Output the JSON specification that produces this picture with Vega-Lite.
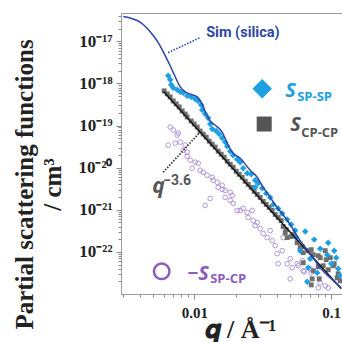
{
  "$schema": "https://vega.github.io/schema/vega-lite/v6.json",
  "width": 221,
  "height": 281,
  "autosize": "none",
  "padding": {"left": 121, "top": 13, "right": 0, "bottom": 48},
  "background": "white",
  "config": {
    "view": {"stroke": "#9a9a9a", "strokeWidth": 1},
    "axis": {
      "grid": false,
      "domainColor": "#9a9a9a",
      "tickColor": "#888888",
      "labelFont": "Liberation Serif",
      "labelFontWeight": "bold",
      "labelFontSize": 15,
      "labelColor": "#222222",
      "labelFlush": false,
      "labelOverlap": false,
      "titleFont": "Liberation Serif",
      "titleFontWeight": "bold",
      "titleColor": "#222222"
    }
  },
  "datasets": {
    "sim": [
      {"q": 0.003009, "S": 3.886e-17}, {"q": 0.003385, "S": 3.578e-17}, {"q": 0.003809, "S": 3.119e-17},
      {"q": 0.004214, "S": 2.504e-17}, {"q": 0.004585, "S": 1.902e-17}, {"q": 0.004988, "S": 1.368e-17},
      {"q": 0.005427, "S": 9.311e-18}, {"q": 0.005804, "S": 6.337e-18}, {"q": 0.006105, "S": 4.557e-18},
      {"q": 0.00664, "S": 2.63e-18}, {"q": 0.007224, "S": 1.437e-18}, {"q": 0.007859, "S": 8.298e-19},
      {"q": 0.008551, "S": 6.302e-19}, {"q": 0.009461, "S": 5.495e-19}, {"q": 0.01047, "S": 4.788e-19},
      {"q": 0.01138, "S": 3.26e-19}, {"q": 0.01218, "S": 1.881e-19}, {"q": 0.01303, "S": 1.28e-19},
      {"q": 0.01441, "S": 9.73e-20}, {"q": 0.01594, "S": 6.997e-20}, {"q": 0.01735, "S": 3.822e-20},
      {"q": 0.01887, "S": 2.331e-20}, {"q": 0.02159, "S": 1.676e-20}, {"q": 0.02556, "S": 8.667e-21},
      {"q": 0.02876, "S": 5.901e-21}, {"q": 0.03182, "S": 3.405e-21}, {"q": 0.03579, "S": 1.966e-21},
      {"q": 0.04027, "S": 1.135e-21}, {"q": 0.04608, "S": 6.551e-22}, {"q": 0.05185, "S": 3.78e-22},
      {"q": 0.05932, "S": 1.85e-22}, {"q": 0.0702, "S": 9.057e-23}, {"q": 0.08311, "S": 4.197e-23},
      {"q": 0.09833, "S": 2.422e-23}, {"q": 0.1184, "S": 1.398e-23}
    ],
    "fit": [
      {"q": 0.005932, "S": 6.408e-19}, {"q": 0.1184, "S": 1.339e-23}
    ],
    "sp_sp": [
      {"q": 0.00642, "S": 1.518e-18}, {"q": 0.00664, "S": 1.219e-18}, {"q": 0.006753, "S": 9.26e-19},
      {"q": 0.006985, "S": 7.853e-19}, {"q": 0.007472, "S": 7.036e-19}, {"q": 0.007861, "S": 6.304e-19},
      {"q": 0.008267, "S": 5.967e-19}, {"q": 0.008844, "S": 5.06e-19}, {"q": 0.00946, "S": 4.789e-19},
      {"q": 0.01012, "S": 4.29e-19}, {"q": 0.010645, "S": 3.844e-19}, {"q": 0.0112, "S": 3.085e-19},
      {"q": 0.01139, "S": 2.344e-19}, {"q": 0.01198, "S": 1.881e-19}, {"q": 0.0126, "S": 1.51e-19},
      {"q": 0.01303, "S": 1.086e-19}, {"q": 0.01347, "S": 8.25e-20}, {"q": 0.01441, "S": 7.392e-20},
      {"q": 0.01516, "S": 6.268e-20}, {"q": 0.01595, "S": 5.031e-20}, {"q": 0.01677, "S": 4.039e-20},
      {"q": 0.01735, "S": 3.242e-20}, {"q": 0.01825, "S": 2.463e-20}, {"q": 0.0192, "S": 1.977e-20},
      {"q": 0.02053, "S": 1.587e-20}, {"q": 0.0216, "S": 1.346e-20}, {"q": 0.02271, "S": 9.676e-21},
      {"q": 0.0243, "S": 7.353e-21}, {"q": 0.02599, "S": 6.959e-21}, {"q": 0.0278, "S": 5.005e-21},
      {"q": 0.02925, "S": 4.243e-21}, {"q": 0.0278, "S": 3.407e-21}, {"q": 0.03129, "S": 3.224e-21},
      {"q": 0.03347, "S": 2.45e-21}, {"q": 0.0358, "S": 1.966e-21}, {"q": 0.03766, "S": 1.338e-21},
      {"q": 0.04096, "S": 1.074e-21}, {"q": 0.04382, "S": 8.16e-22}, {"q": 0.04767, "S": 5.868e-22},
      {"q": 0.05099, "S": 4.458e-22}, {"q": 0.05455, "S": 3.206e-22}, {"q": 0.06456, "S": 3.035e-22},
      {"q": 0.05548, "S": 2.183e-22}, {"q": 0.07513, "S": 1.955e-22}, {"q": 0.05934, "S": 1.068e-22},
      {"q": 0.08313, "S": 1.192e-22}, {"q": 0.09512, "S": 1.658e-22}, {"q": 0.1052, "S": 1.068e-22},
      {"q": 0.09353, "S": 8.575e-23}, {"q": 0.1088, "S": 7.27e-23}, {"q": 0.07024, "S": 6.882e-23},
      {"q": 0.06791, "S": 4.198e-23}, {"q": 0.07903, "S": 3.189e-23}, {"q": 0.06678, "S": 1.944e-23},
      {"q": 0.1125, "S": 3.972e-23}, {"q": 0.1164, "S": 2.704e-23}, {"q": 0.1001, "S": 5.229e-23}
    ],
    "cp_cp": [
      {"q": 0.006004, "S": 6.66e-19}, {"q": 0.006315, "S": 5.647e-19}, {"q": 0.00664, "S": 4.789e-19},
      {"q": 0.006985, "S": 3.844e-19}, {"q": 0.007347, "S": 3.259e-19}, {"q": 0.00773, "S": 2.764e-19},
      {"q": 0.008129, "S": 2.219e-19}, {"q": 0.008551, "S": 1.881e-19}, {"q": 0.008843, "S": 1.596e-19},
      {"q": 0.00946, "S": 1.281e-19}, {"q": 0.009951, "S": 1.086e-19}, {"q": 0.01047, "S": 9.211e-20},
      {"q": 0.01101, "S": 7.392e-20}, {"q": 0.01158, "S": 6.268e-20}, {"q": 0.01218, "S": 5.316e-20},
      {"q": 0.01281, "S": 4.267e-20}, {"q": 0.01347, "S": 3.618e-20}, {"q": 0.01417, "S": 3.069e-20},
      {"q": 0.01491, "S": 2.463e-20}, {"q": 0.01568, "S": 2.089e-20}, {"q": 0.01649, "S": 1.771e-20},
      {"q": 0.01735, "S": 1.422e-20}, {"q": 0.01825, "S": 1.205e-20}, {"q": 0.0192, "S": 1.022e-20},
      {"q": 0.02019, "S": 8.207e-21}, {"q": 0.02124, "S": 6.959e-21}, {"q": 0.02234, "S": 5.902e-21},
      {"q": 0.02349, "S": 4.738e-21}, {"q": 0.02471, "S": 4.017e-21}, {"q": 0.02599, "S": 3.407e-21},
      {"q": 0.02734, "S": 2.735e-21}, {"q": 0.02875, "S": 2.319e-21}, {"q": 0.03025, "S": 1.967e-21},
      {"q": 0.03182, "S": 1.578e-21}, {"q": 0.03347, "S": 1.338e-21}, {"q": 0.0352, "S": 1.135e-21},
      {"q": 0.03703, "S": 9.623e-22}, {"q": 0.03895, "S": 7.724e-22}, {"q": 0.04096, "S": 6.551e-22},
      {"q": 0.04309, "S": 5.555e-22}, {"q": 0.04457, "S": 3.995e-22}, {"q": 0.04687, "S": 3.387e-22},
      {"q": 0.04609, "S": 2.873e-22}, {"q": 0.04767, "S": 2.183e-22}, {"q": 0.05099, "S": 2.306e-22},
      {"q": 0.05274, "S": 2.574e-22}, {"q": 0.05642, "S": 1.658e-22}, {"q": 0.05934, "S": 1.26e-22},
      {"q": 0.06138, "S": 1.331e-22}, {"q": 0.06242, "S": 9.569e-23}, {"q": 0.06791, "S": 1.068e-22},
      {"q": 0.07143, "S": 1.128e-22}, {"q": 0.07388, "S": 8.575e-23}, {"q": 0.08037, "S": 8.117e-23},
      {"q": 0.08313, "S": 7.273e-23}, {"q": 0.09043, "S": 1.068e-22}, {"q": 0.09197, "S": 6.514e-23},
      {"q": 0.09838, "S": 7.273e-23}, {"q": 0.1035, "S": 4.685e-23}, {"q": 0.1052, "S": 5.229e-23},
      {"q": 0.08743, "S": 4.685e-23}, {"q": 0.08037, "S": 4.435e-23}, {"q": 0.07388, "S": 3.559e-23},
      {"q": 0.09512, "S": 3.76e-23}, {"q": 0.08174, "S": 2.292e-23}, {"q": 0.07143, "S": 1.649e-23},
      {"q": 0.07265, "S": 2.292e-23}, {"q": 0.1125, "S": 3.018e-23}, {"q": 0.1164, "S": 2.054e-23},
      {"q": 0.1107, "S": 2.423e-23}, {"q": 0.06242, "S": 5.525e-23}
    ],
    "sp_cp": [
      {"q": 0.00664, "S": 9.211e-20}, {"q": 0.006985, "S": 7.809e-20}, {"q": 0.0076, "S": 6.622e-20},
      {"q": 0.007472, "S": 5.933e-20}, {"q": 0.00642, "S": 3.425e-20}, {"q": 0.007224, "S": 3.823e-20},
      {"q": 0.007861, "S": 4.039e-20}, {"q": 0.008551, "S": 3.425e-20}, {"q": 0.008267, "S": 2.602e-20},
      {"q": 0.008843, "S": 2.331e-20}, {"q": 0.008844, "S": 1.871e-20}, {"q": 0.009302, "S": 1.502e-20},
      {"q": 0.01012, "S": 1.346e-20}, {"q": 0.009621, "S": 9.676e-21}, {"q": 0.010645, "S": 1.274e-20},
      {"q": 0.01101, "S": 8.67e-21}, {"q": 0.01158, "S": 7.768e-21}, {"q": 0.01239, "S": 6.587e-21},
      {"q": 0.01347, "S": 5.902e-21}, {"q": 0.0137, "S": 5.005e-21}, {"q": 0.01466, "S": 4.485e-21},
      {"q": 0.01491, "S": 3.407e-21}, {"q": 0.01595, "S": 3.802e-21}, {"q": 0.01595, "S": 3.052e-21},
      {"q": 0.01677, "S": 2.889e-21}, {"q": 0.01825, "S": 2.589e-21}, {"q": 0.01888, "S": 2.195e-21},
      {"q": 0.01303, "S": 1.86e-21}, {"q": 0.01198, "S": 1.267e-21}, {"q": 0.01677, "S": 1.966e-21},
      {"q": 0.01825, "S": 1.667e-21}, {"q": 0.0192, "S": 1.414e-21}, {"q": 0.02053, "S": 9.623e-22},
      {"q": 0.0216, "S": 9.623e-22}, {"q": 0.02271, "S": 1.074e-21}, {"q": 0.0243, "S": 8.62e-22},
      {"q": 0.02644, "S": 9.623e-22}, {"q": 0.02471, "S": 6.551e-22}, {"q": 0.02688, "S": 5.555e-22},
      {"q": 0.0278, "S": 4.22e-22}, {"q": 0.02875, "S": 4.977e-22}, {"q": 0.03025, "S": 3.579e-22},
      {"q": 0.03182, "S": 2.719e-22}, {"q": 0.0358, "S": 3.206e-22}, {"q": 0.03404, "S": 2.183e-22},
      {"q": 0.03703, "S": 1.851e-22}, {"q": 0.03895, "S": 1.406e-22}, {"q": 0.04457, "S": 2.183e-22},
      {"q": 0.04382, "S": 1.068e-22}, {"q": 0.04028, "S": 9.058e-23}, {"q": 0.04096, "S": 5.229e-23},
      {"q": 0.04767, "S": 5.229e-23}, {"q": 0.05014, "S": 6.882e-23}, {"q": 0.05186, "S": 4.198e-23},
      {"q": 0.05738, "S": 4.685e-23}, {"q": 0.06138, "S": 6.166e-23}, {"q": 0.07024, "S": 3.972e-23},
      {"q": 0.06242, "S": 3.559e-23}, {"q": 0.05642, "S": 5.229e-23}, {"q": 0.06348, "S": 3.369e-23},
      {"q": 0.07143, "S": 3.189e-23}, {"q": 0.08313, "S": 1.84e-23}, {"q": 0.09043, "S": 1.561e-23},
      {"q": 0.09512, "S": 1.399e-23}, {"q": 0.08037, "S": 1.399e-23}, {"q": 0.05014, "S": 2.292e-23}
    ],
    "ptr_sim": [{"q": 0.00642, "S": 5.375e-18}, {"q": 0.01101, "S": 1.225e-17}],
    "ptr_fit": [{"q": 0.005902, "S": 7.767e-21}, {"q": 0.01082, "S": 6.622e-20}],
    "sim_note": [{"label": "Sim (silica)", "q": 0.01218, "S": 1.613e-17}],
    "fit_q": [{"label": "q", "q": 0.004905, "S": 2.449e-21}],
    "fit_exp": [{"label": "−3.6", "q": 0.005902, "S": 3.802e-21}],
    "key_sp_sp": [{"q": 0.03129, "S": 7.433e-19}],
    "key_cp_cp": [{"q": 0.03236, "S": 1.086e-19}],
    "key_sp_cp": [{"q": 0.005755, "S": 3.462e-23}],
    "key_letters": [
      {"series": "SP-SP", "label": "S", "q": 0.04609, "S": 4.789e-19},
      {"series": "CP-CP", "label": "S", "q": 0.05014, "S": 7.392e-20},
      {"series": "SP-CP", "label": "−S", "q": 0.008844, "S": 2.17e-23}
    ],
    "key_subs": [
      {"series": "SP-SP", "label": "SP-SP", "q": 0.05642, "S": 3.844e-19},
      {"series": "CP-CP", "label": "CP-CP", "q": 0.06035, "S": 5.316e-20},
      {"series": "SP-CP", "label": "SP-CP", "q": 0.01303, "S": 1.791e-23}
    ]
  },
  "encoding": {
    "x": {
      "field": "q",
      "type": "quantitative",
      "scale": {"type": "log", "domain": [0.0029, 0.12], "nice": false},
      "axis": {
        "values": [0.003, 0.004, 0.005, 0.006, 0.007, 0.008, 0.009, 0.01, 0.02, 0.03, 0.04, 0.05, 0.06, 0.07, 0.08, 0.09, 0.1],
        "labelExpr": "datum.value == 0.01 ? '0.01' : datum.value == 0.1 ? '0.1' : ''",
        "labelPadding": 6,
        "tickSize": {"condition": {"test": "datum.value == 0.01 || datum.value == 0.1", "value": 5}, "value": 3},
        "title": "𝒒 / Å⁻¹",
        "titleFontSize": 26,
        "titleX": 119,
        "titleY": 43,
        "titleAlign": "center",
        "titleBaseline": "alphabetic"
      }
    },
    "y": {
      "field": "S",
      "type": "quantitative",
      "scale": {"type": "log", "domain": [1e-23, 4.7e-17], "nice": false},
      "axis": {
        "values": [2e-23, 3e-23, 4e-23, 5e-23, 6e-23, 7e-23, 8e-23, 9e-23, 1e-22, 2e-22, 3e-22, 4e-22, 5e-22, 6e-22, 7e-22, 8e-22, 9e-22, 1e-21, 2e-21, 3e-21, 4e-21, 5e-21, 6e-21, 7e-21, 8e-21, 9e-21, 1e-20, 2e-20, 3e-20, 4e-20, 5e-20, 6e-20, 7e-20, 8e-20, 9e-20, 1e-19, 2e-19, 3e-19, 4e-19, 5e-19, 6e-19, 7e-19, 8e-19, 9e-19, 1e-18, 2e-18, 3e-18, 4e-18, 5e-18, 6e-18, 7e-18, 8e-18, 9e-18, 1e-17, 2e-17, 3e-17, 4e-17],
        "labelExpr": "datum.value == 1e-17 ? '10⁻¹⁷' : datum.value == 1e-18 ? '10⁻¹⁸' : datum.value == 1e-19 ? '10⁻¹⁹' : datum.value == 1e-20 ? '10⁻²⁰' : datum.value == 1e-21 ? '10⁻²¹' : datum.value == 1e-22 ? '10⁻²²' : ''",
        "labelFontSize": 17,
        "labelPadding": 4,
        "tickSize": {"condition": {"test": "datum.value == 1e-17 || datum.value == 1e-18 || datum.value == 1e-19 || datum.value == 1e-20 || datum.value == 1e-21 || datum.value == 1e-22", "value": 5}, "value": 3},
        "title": ["Partial scattering functions", "/ cm³"],
        "titleFontSize": 25,
        "titleLineHeight": 28,
        "titleAngle": -90,
        "titleX": -89,
        "titleY": 171,
        "titleAlign": "center",
        "titleBaseline": "alphabetic"
      }
    }
  },
  "layer": [
    {
      "data": {"name": "sp_cp"},
      "mark": {"type": "point", "shape": "circle", "filled": false, "size": 22, "strokeWidth": 0.9, "color": "#a98bd0", "opacity": 1, "clip": true}
    },
    {
      "data": {"name": "cp_cp"},
      "mark": {"type": "square", "size": 24, "color": "#6e6e6e", "opacity": 1, "clip": true}
    },
    {
      "data": {"name": "sp_sp"},
      "mark": {"type": "point", "shape": "diamond", "filled": true, "size": 42, "color": "#1ca0e2", "opacity": 1, "clip": true}
    },
    {
      "data": {"name": "fit"},
      "mark": {"type": "line", "color": "#111111", "strokeWidth": 1.4, "clip": true}
    },
    {
      "data": {"name": "sim"},
      "mark": {"type": "line", "color": "#2c46a6", "strokeWidth": 1.5, "interpolate": "monotone", "clip": true}
    },
    {
      "data": {"name": "ptr_sim"},
      "mark": {"type": "line", "color": "#2c46a6", "strokeWidth": 1.6, "strokeDash": [1.5, 1.5]}
    },
    {
      "data": {"name": "ptr_fit"},
      "mark": {"type": "line", "color": "#222222", "strokeWidth": 1.6, "strokeDash": [1.5, 1.5]}
    },
    {
      "data": {"name": "sim_note"},
      "mark": {"type": "text", "align": "left", "baseline": "middle", "font": "Roboto", "fontWeight": "bold", "fontSize": 14.5, "color": "#2c46a6"},
      "encoding": {"text": {"field": "label"}}
    },
    {
      "data": {"name": "fit_q"},
      "mark": {"type": "text", "align": "left", "baseline": "alphabetic", "font": "Open Sans", "fontWeight": "bold", "fontStyle": "italic", "fontSize": 21, "color": "#555555"},
      "encoding": {"text": {"field": "label"}}
    },
    {
      "data": {"name": "fit_exp"},
      "mark": {"type": "text", "align": "left", "baseline": "alphabetic", "font": "Roboto", "fontWeight": "bold", "fontSize": 14, "color": "#555555"},
      "encoding": {"text": {"field": "label"}}
    },
    {
      "data": {"name": "key_sp_sp"},
      "mark": {"type": "point", "shape": "diamond", "filled": true, "size": 380, "color": "#1ca0e2", "opacity": 1}
    },
    {
      "data": {"name": "key_cp_cp"},
      "mark": {"type": "square", "size": 225, "color": "#555555", "opacity": 1}
    },
    {
      "data": {"name": "key_sp_cp"},
      "mark": {"type": "point", "shape": "circle", "filled": false, "size": 240, "strokeWidth": 2.5, "color": "#8e5cbf", "opacity": 1}
    },
    {
      "data": {"name": "key_letters"},
      "mark": {"type": "text", "align": "left", "baseline": "alphabetic", "font": "Open Sans", "fontWeight": "bold", "fontStyle": "italic", "fontSize": 20},
      "encoding": {
        "text": {"field": "label"},
        "color": {"field": "series", "type": "nominal", "scale": {"domain": ["SP-SP", "CP-CP", "SP-CP"], "range": ["#1ca0e2", "#555555", "#8e5cbf"]}, "legend": null}
      }
    },
    {
      "data": {"name": "key_subs"},
      "mark": {"type": "text", "align": "left", "baseline": "alphabetic", "font": "Open Sans", "fontWeight": "bold", "fontSize": 13},
      "encoding": {
        "text": {"field": "label"},
        "color": {"field": "series", "type": "nominal", "scale": {"domain": ["SP-SP", "CP-CP", "SP-CP"], "range": ["#1ca0e2", "#555555", "#8e5cbf"]}, "legend": null}
      }
    }
  ]
}
